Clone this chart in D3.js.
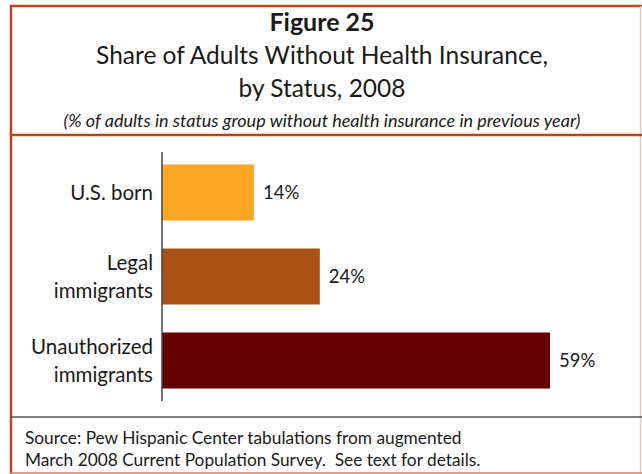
<!DOCTYPE html>
<html>
<head>
<meta charset="utf-8">
<script src="https://cdn.jsdelivr.net/npm/d3@7"></script>
<style>
  html, body { margin: 0; padding: 0; background: #fff; }
  svg { display: block; }
  text { font-family: Lato, "Open Sans", sans-serif; fill: #1a1a1a; white-space: pre; }
</style>
</head>
<body>
<svg id="chart" width="642" height="474"></svg>
<script>
// ---- data ----
const categories = ["U.S. born", "Legal immigrants", "Unauthorized immigrants"];
const categoryLines = [["U.S. born"], ["Legal", "immigrants"], ["Unauthorized", "immigrants"]];
const values = [14, 24, 59];
const valueLabels = ["14%", "24%", "59%"];
const barColors = ["#FBA625", "#A95214", "#640000"];

const titleLines = ["Figure 25", "Share of Adults Without Health Insurance,", "by Status, 2008"];
const subtitle = "(% of adults in status group without health insurance in previous year)";
const sourceLines = ["Source: Pew Hispanic Center tabulations from augmented",
                     "March 2008 Current Population Survey.\u00A0 See text for details."];

const svg = d3.select("#chart");
const frameRed = "#B8431D";

// frame
svg.append("line").attr("x1", 10).attr("x2", 642).attr("y1", 6).attr("y2", 6)
  .attr("stroke", frameRed).attr("stroke-width", 2.5);
svg.append("line").attr("x1", 11).attr("x2", 11).attr("y1", 5).attr("y2", 474)
  .attr("stroke", frameRed).attr("stroke-width", 2.5);
svg.append("line").attr("x1", 640.5).attr("x2", 640.5).attr("y1", 6).attr("y2", 474)
  .attr("stroke", "#d8cfcb").attr("stroke-width", 1.5);
svg.append("line").attr("x1", 10).attr("x2", 642).attr("y1", 135).attr("y2", 135)
  .attr("stroke", frameRed).attr("stroke-width", 2.5);
svg.append("line").attr("x1", 10).attr("x2", 642).attr("y1", 417).attr("y2", 417)
  .attr("stroke", "#555").attr("stroke-width", 1.5);
svg.append("line").attr("x1", 10).attr("x2", 642).attr("y1", 473).attr("y2", 473)
  .attr("stroke", "#D08060").attr("stroke-width", 1.5);

// titles
const cx = 322;
svg.append("text").attr("x", cx).attr("y", 31).attr("text-anchor", "middle")
  .attr("font-size", 25).attr("font-weight", "bold").text(titleLines[0]);
svg.append("text").attr("x", cx).attr("y", 64).attr("text-anchor", "middle")
  .attr("font-size", 24.5).text(titleLines[1]);
svg.append("text").attr("x", cx).attr("y", 97).attr("text-anchor", "middle")
  .attr("font-size", 24.5).text(titleLines[2]);
svg.append("text").attr("x", cx).attr("y", 127).attr("text-anchor", "middle")
  .attr("font-size", 18).attr("font-style", "italic").text(subtitle);

// scales
const x = d3.scaleLinear().domain([0, 59]).range([162, 550]);
const y = d3.scaleBand().domain(categories).range([150.5, 402.5])
  .paddingInner(1/3).paddingOuter(1/6);

// bars
svg.append("g").selectAll("rect").data(values).join("rect")
  .attr("x", x(0))
  .attr("y", (d, i) => y(categories[i]))
  .attr("width", d => x(d) - x(0))
  .attr("height", y.bandwidth())
  .attr("fill", (d, i) => barColors[i]);

// value labels
svg.append("g").selectAll("text").data(values).join("text")
  .attr("x", d => x(d) + 9)
  .attr("y", (d, i) => y(categories[i]) + y.bandwidth() / 2)
  .attr("dy", "0.35em")
  .attr("font-size", 18.5)
  .text((d, i) => valueLabels[i]);

// y axis (line only, labels custom multi-line)
const yAxis = d3.axisLeft(y).tickSize(0).tickFormat("");
const gy = svg.append("g").attr("transform", `translate(${x(0)},0)`).call(yAxis);
gy.select(".domain").attr("stroke", "#444").attr("stroke-width", 1.5)
  .attr("d", `M0,152V401`);

const labels = svg.append("g");
categories.forEach((c, i) => {
  const lines = categoryLines[i];
  const cy = y(c) + y.bandwidth() / 2;
  const lh = 28;
  lines.forEach((ln, j) => {
    labels.append("text")
      .attr("x", 153)
      .attr("y", cy + (j - (lines.length - 1) / 2) * lh)
      .attr("dy", "0.35em")
      .attr("text-anchor", "end")
      .attr("font-size", 20.5)
      .text(ln);
  });
});

// source
sourceLines.forEach((s, i) => {
  svg.append("text").attr("x", 25).attr("y", 444 + i * 22)
    .attr("font-size", 17.3).text(s);
});
</script>
</body>
</html>
